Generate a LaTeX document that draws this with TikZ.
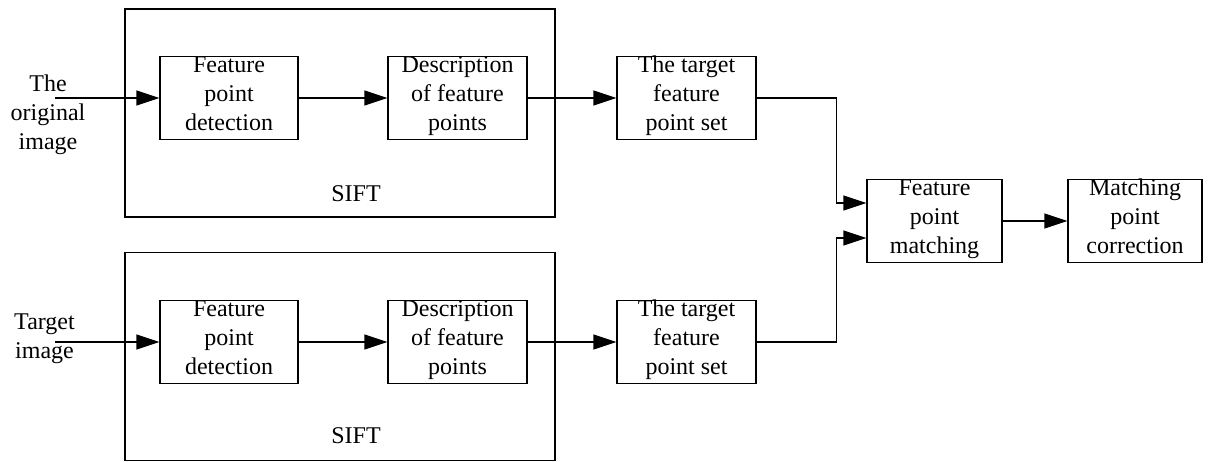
\documentclass[tikz,border=0pt]{standalone}
\usepackage{fontspec}
\setmainfont{Liberation Serif}
\usetikzlibrary{arrows.meta,calc}
\begin{document}
\begin{tikzpicture}[x=1pt,y=-1pt,
  every node/.style={font=\fontsize{24}{29}\selectfont, align=center},
  txt/.style={inner sep=0pt, execute at begin node=\strut, execute at end node=\strut},
  stepbox/.style={txt, draw, line width=1.3pt, minimum height=83pt, inner ysep=-2pt},
  frame/.style={draw, line width=1.3pt, minimum width=430pt, minimum height=208pt, inner sep=0pt},
  arr/.style={line width=1.3pt, -{Triangle[length=23pt,width=15pt]}},
  ln/.style={line width=1.3pt}]
\useasboundingbox (0,0) rectangle (1220,462);

% SIFT frames
\node[frame] (sift1) at (340,113) {};
\node[frame] (sift2) at (340,356.5) {};
\node[txt] (lab1) at (356,196) {SIFT};
\node[txt] (lab2) at (356,438) {SIFT};

% inputs
\node[txt] (in1) at (48,117) {The\\original\\image};
\node[txt] (in2) at (44.5,340) {Target\\image};
\coordinate (s1) at (55,98);
\coordinate (s2) at (55,342);

% upper branch
\node[stepbox, minimum width=138pt] (f1) at (229,98) {Feature\\point\\detection};
\node[stepbox, minimum width=139pt] (d1) at (457.5,98) {Description\\of feature\\points};
\node[stepbox, minimum width=139pt] (t1) at (686.5,98) {The target\\feature\\point set};

% lower branch
\node[stepbox, minimum width=138pt] (f2) at (229,342) {Feature\\point\\detection};
\node[stepbox, minimum width=139pt] (d2) at (457.5,342) {Description\\of feature\\points};
\node[stepbox, minimum width=139pt] (t2) at (686.5,342) {The target\\feature\\point set};

% matching stages
\node[stepbox, minimum width=135pt] (m) at (934.5,221) {Feature\\point\\matching};
\node[stepbox, minimum width=134pt] (c) at (1135,221) {Matching\\point\\correction};

% connectors
\draw[arr] (s1) -- (f1.west);
\draw[arr] (f1) -- (d1);
\draw[arr] (d1) -- (t1);
\draw[arr] (s2) -- (f2.west);
\draw[arr] (f2) -- (d2);
\draw[arr] (d2) -- (t2);
\draw[arr] (t1.east) -- ++(80,0) |- ($(m.west)+(0,-18)$);
\draw[arr] (t2.east) -- ++(80,0) |- ($(m.west)+(0,17)$);
\draw[arr] (m) -- (c);
\end{tikzpicture}
\end{document}
